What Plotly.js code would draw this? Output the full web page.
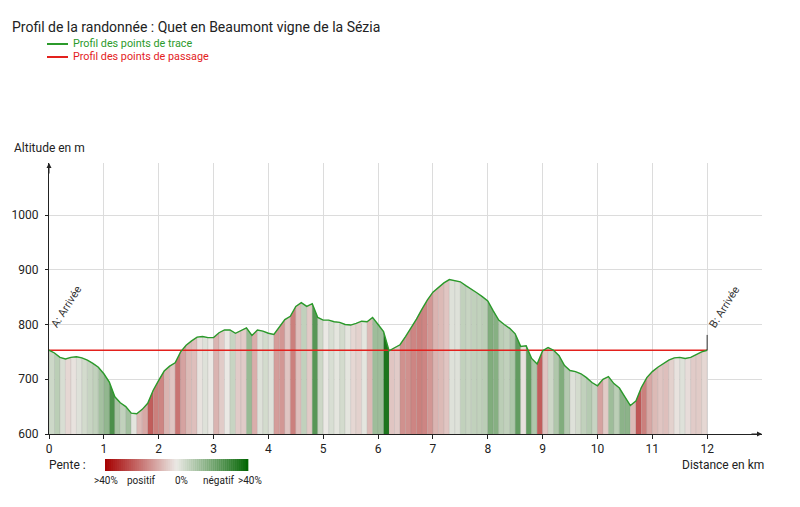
<!DOCTYPE html>
<html>
<head>
<meta charset="utf-8">
<script src="https://cdn.plot.ly/plotly-3.0.1.min.js"></script>
<style>html,body{margin:0;padding:0;background:#fff;}#chart{width:800px;height:507px;}</style>
</head>
<body>
<div id="chart"></div>
<script>
const distanceKm = [0,0.1,0.2,0.3,0.4,0.5,0.6,0.7,0.8,0.9,1,1.1,1.2,1.3,1.4,1.5,1.6,1.7,1.8,1.9,2,2.1,2.2,2.3,2.4,2.5,2.6,2.7,2.8,2.9,3,3.1,3.2,3.3,3.4,3.5,3.6,3.7,3.8,3.9,4,4.1,4.2,4.3,4.4,4.5,4.6,4.7,4.8,4.9,5,5.1,5.2,5.3,5.4,5.5,5.6,5.7,5.8,5.9,6,6.1,6.2,6.3,6.4,6.5,6.6,6.7,6.8,6.9,7,7.1,7.2,7.3,7.4,7.5,7.6,7.7,7.8,7.9,8,8.1,8.2,8.3,8.4,8.5,8.6,8.7,8.8,8.9,9,9.1,9.2,9.3,9.4,9.5,9.6,9.7,9.8,9.9,10,10.1,10.2,10.3,10.4,10.5,10.6,10.7,10.8,10.9,11,11.1,11.2,11.3,11.4,11.5,11.6,11.7,11.8,11.9,12];
const altitudeM = [753,748,740,737,740,741,739,735,729,722,710,695,668,657,650,638,637,645,656,680,698,715,724,730,750,762,770,777,778,776,776,785,790,790,784,789,794,780,790,788,784,782,795,809,815,833,840,833,838,813,808,808,805,804,800,799,802,806,805,813,800,787,752,758,763,778,793,810,828,845,859,868,876,882,880,878,871,865,858,851,843,825,808,800,793,783,760,761,738,728,752,758,753,743,725,716,714,710,703,694,688,700,705,692,684,668,652,660,685,703,714,722,728,735,739,740,738,740,745,750,753];
// Waypoints (points de passage)
const waypointNames = ["A: Arrivée", "B: Arrivée"];
const waypointKm = [0, 12];
const waypointAlt = [753, 753];
// Slope legend labels
const slopeLabels = [">40%", "positif", "0%", "négatif", ">40%"];

const Y_MIN = 600, Y_MAX = 1095, X_MIN = 0, X_MAX = 13;
const L = 49, R = 38, T = 163, B = 73, W = 800, H = 507;
const pw = W - L - R, ph = H - T - B;
const px2x = px => (px - L) / pw;
const py2y = py => (H - B - py) / ph;

const NEUTRAL = [234, 232, 228], RED = [165, 0, 0], GREEN = [0, 100, 0];
function mix(a, b, f) { return 'rgb(' + a.map((v, i) => Math.round(v + (b[i] - v) * f)).join(',') + ')'; }
function slopeColor(pct) {
  const u = Math.max(-1, Math.min(1, pct / 40));
  const f = Math.abs(u);
  return u >= 0 ? mix(NEUTRAL, RED, f) : mix(NEUTRAL, GREEN, f);
}

const traces = [];
for (let i = 0; i < distanceKm.length - 1; i++) {
  const x0 = distanceKm[i], x1 = distanceKm[i + 1];
  const y0 = altitudeM[i], y1 = altitudeM[i + 1];
  const pct = (y1 - y0) / ((x1 - x0) * 1000) * 100;
  traces.push({
    type: 'scatter', mode: 'lines', x: [x0, x0, x1, x1], y: [Y_MIN, y0, y1, Y_MIN],
    fill: 'toself', fillcolor: slopeColor(pct), line: {width: 0.4, color: 'rgba(110,110,110,0.3)'},
    hoverinfo: 'skip', showlegend: false
  });
}
traces.push({type: 'scatter', mode: 'lines', x: waypointKm, y: waypointAlt,
  line: {color: '#e3211d', width: 1.6}, showlegend: false, hoverinfo: 'skip'});
traces.push({type: 'scatter', mode: 'lines', x: distanceKm, y: altitudeM,
  line: {color: '#2b9a2b', width: 1.4}, showlegend: false});

const shapes = [
  {type: 'line', xref: 'paper', yref: 'paper', x0: px2x(47), x1: px2x(68), y0: py2y(44), y1: py2y(44), line: {color: '#2b9a2b', width: 2}},
  {type: 'line', xref: 'paper', yref: 'paper', x0: px2x(47), x1: px2x(68), y0: py2y(57), y1: py2y(57), line: {color: '#e3211d', width: 2}},
  {type: 'line', xref: 'x', yref: 'y', x0: waypointKm[1], x1: waypointKm[1], y0: waypointAlt[1], y1: waypointAlt[1] + 28, line: {color: '#333', width: 1}}
];
// gradient bar for slope legend
const gx0 = 105, gx1 = 248, steps = 72;
for (let k = 0; k < steps; k++) {
  const a = gx0 + (gx1 - gx0) * k / steps, b = gx0 + (gx1 - gx0) * (k + 1) / steps;
  const pct = 40 - 80 * (k + 0.5) / steps;
  shapes.push({type: 'rect', xref: 'paper', yref: 'paper', x0: px2x(a), x1: px2x(b) + 0.0005,
    y0: py2y(471), y1: py2y(459), fillcolor: slopeColor(pct), line: {width: 0}, layer: 'above'});
}

const annotations = [
  {xref: 'paper', yref: 'paper', x: px2x(71), y: py2y(44), xanchor: 'left', yanchor: 'middle', showarrow: false,
    text: 'Profil des points de trace', font: {size: 10.8, color: '#2b9a2b'}},
  {xref: 'paper', yref: 'paper', x: px2x(71), y: py2y(57), xanchor: 'left', yanchor: 'middle', showarrow: false,
    text: 'Profil des points de passage', font: {size: 10.8, color: '#e3211d'}},
  {xref: 'paper', yref: 'paper', x: px2x(12), y: py2y(148), xanchor: 'left', yanchor: 'middle', showarrow: false,
    text: 'Altitude en m', font: {size: 12, color: '#222'}},
  {xref: 'paper', yref: 'paper', x: px2x(766), y: py2y(465), xanchor: 'right', yanchor: 'middle', showarrow: false,
    text: 'Distance en km', font: {size: 12, color: '#222'}},
  {xref: 'paper', yref: 'paper', x: px2x(47), y: py2y(465), xanchor: 'left', yanchor: 'middle', showarrow: false,
    text: 'Pente :', font: {size: 12, color: '#222'}},
  // axis arrows
  {xref: 'paper', yref: 'paper', x: 0, y: 1, ax: 0, ay: 12, showarrow: true, arrowhead: 2, arrowsize: 1, arrowwidth: 1, arrowcolor: '#222', text: ''},
  {xref: 'paper', yref: 'paper', x: 1, y: 0, ax: -12, ay: 0, showarrow: true, arrowhead: 2, arrowsize: 1, arrowwidth: 1, arrowcolor: '#222', text: ''}
];
const labelPx = [106, 141, 181, 219, 250];
slopeLabels.forEach((t, i) => annotations.push({xref: 'paper', yref: 'paper', x: px2x(labelPx[i]), y: py2y(480),
  xanchor: 'center', yanchor: 'middle', showarrow: false, text: t, font: {size: 10, color: '#222'}}));
waypointNames.forEach((t, i) => annotations.push({xref: 'x', yref: 'y', x: waypointKm[i], y: waypointAlt[i] + 32,
  xanchor: 'left', yanchor: 'bottom', xshift: -3, showarrow: false, textangle: -58, text: t, font: {size: 11, color: '#333'}}));

const layout = {
  width: W, height: H, margin: {l: L, r: R, t: T, b: B},
  paper_bgcolor: '#fff', plot_bgcolor: '#fff',
  font: {family: 'Roboto, sans-serif', color: '#222'},
  title: {text: 'Profil de la randonnée : Quet en Beaumont vigne de la Sézia', x: 12 / W, xref: 'container', xanchor: 'left',
    y: 1 - 27 / H, yref: 'container', yanchor: 'middle', font: {size: 14, color: '#222'}},
  showlegend: false,
  xaxis: {range: [X_MIN, X_MAX], showgrid: true, gridcolor: '#dcdcdc', gridwidth: 1, zeroline: false,
    showline: true, linecolor: '#222', linewidth: 1, ticks: 'outside', ticklen: 4, tickcolor: '#222',
    tickvals: [0,1,2,3,4,5,6,7,8,9,10,11,12], tickfont: {size: 12, color: '#222'}, fixedrange: true},
  yaxis: {range: [Y_MIN, Y_MAX], tickvals: [600, 700, 800, 900, 1000], showgrid: true, gridcolor: '#dcdcdc', gridwidth: 1, zeroline: false,
    showline: true, linecolor: '#222', linewidth: 1, ticks: 'outside', ticklen: 3, tickcolor: '#222',
    tickfont: {size: 12, color: '#222'}, ticklabelstandoff: 4, fixedrange: true},
  shapes: shapes, annotations: annotations
};
Plotly.newPlot('chart', traces, layout, {displayModeBar: false, staticPlot: true});
</script>
</body>
</html>
